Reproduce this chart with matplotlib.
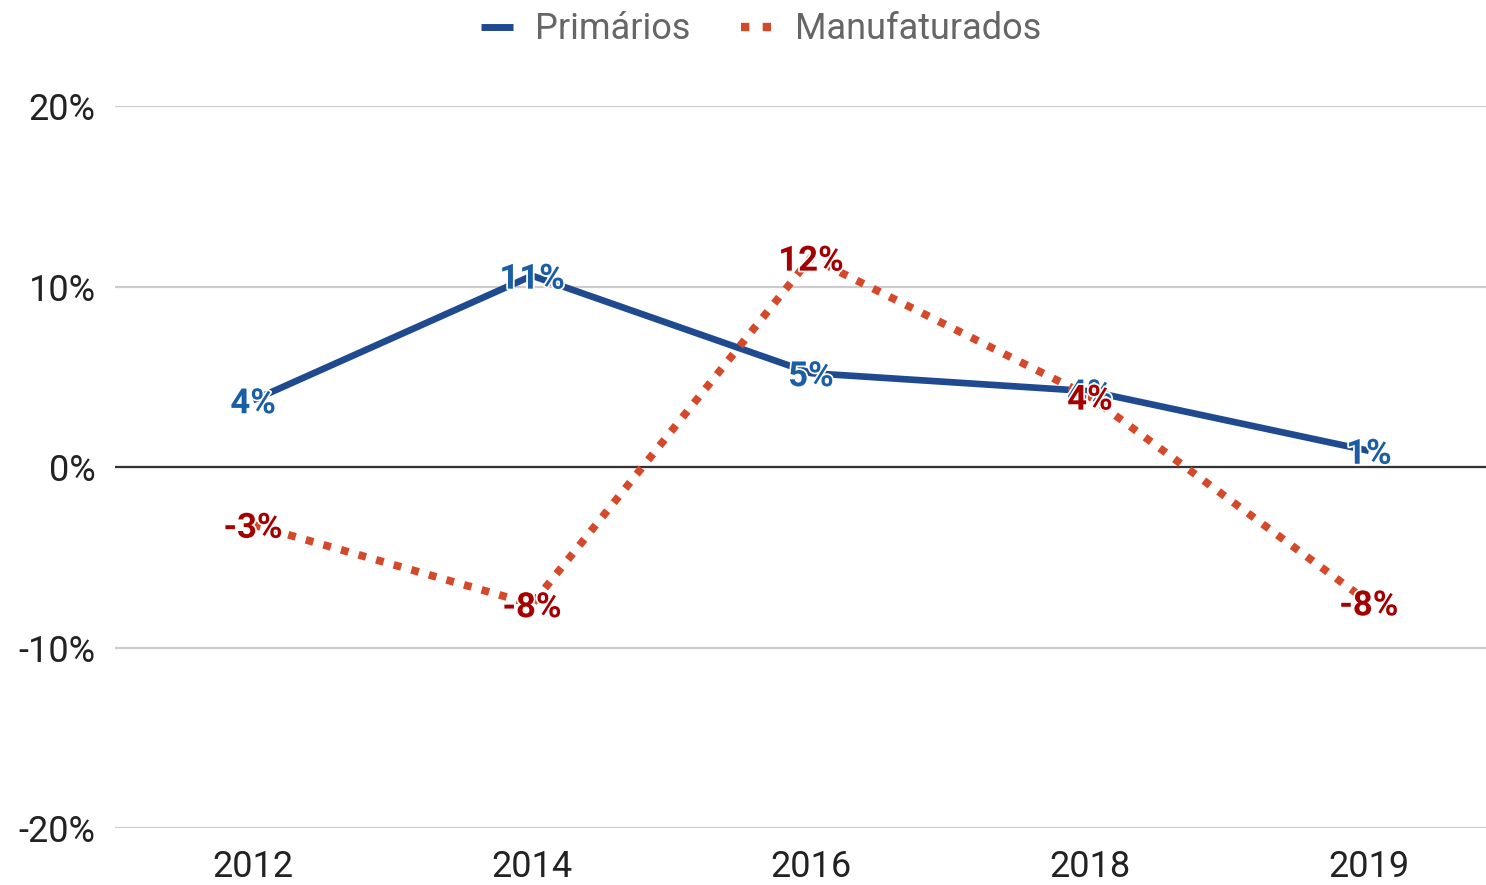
import matplotlib.pyplot as plt
import matplotlib.patheffects as pe
from matplotlib.lines import Line2D

plt.rcParams['font.family'] = ['Roboto', 'DejaVu Sans']

anos = ["2012", "2014", "2016", "2018", "2019"]
primarios = [3.7, 10.6, 5.2, 4.2, 0.9]
manufaturados = [-3.2, -7.6, 11.6, 3.9, -7.5]

azul = "#1f4a8f"
azul_txt = "#1a5fa6"
verm = "#d5492b"
verm_txt = "#a50000"

fig = plt.figure(figsize=(14.86, 8.85), dpi=100)
ax = fig.add_axes([0.0774, 0.0644, 0.9226, 0.8158])

x = list(range(len(anos)))

ax.plot(x, primarios, color=azul, lw=4.8, solid_capstyle='butt', zorder=3)
ax.plot(x, manufaturados, color=verm, lw=5.6, linestyle=(0, (1, 1.35)),
        dash_capstyle='butt', zorder=3)

outline = [pe.withStroke(linewidth=2.5, foreground="white")]
for xi, v in zip(x, primarios):
    ax.text(xi, v, f"{round(v):.0f}%", color=azul_txt, fontsize=25, fontweight='bold',
            ha='center', va='center_baseline', path_effects=outline, zorder=5)
for xi, v in zip(x, manufaturados):
    ax.text(xi, v, f"{round(v):.0f}%", color=verm_txt, fontsize=25, fontweight='bold',
            ha='center', va='center_baseline', path_effects=outline, zorder=5)

ax.set_ylim(-20, 20)
ax.set_xlim(-0.495, 4.42)
ax.set_yticks([-20, -10, 0, 10, 20])
ax.set_yticklabels(["-20%", "-10%", "0%", "10%", "20%"])
ax.set_xticks(x)
ax.set_xticklabels(anos)
ax.tick_params(axis='both', length=0, labelsize=26, labelcolor="#222222")
ax.tick_params(axis='y', pad=14)
ax.tick_params(axis='x', pad=15)

for s in ax.spines.values():
    s.set_visible(False)
ax.grid(axis='y', color="#cccccc", lw=1.6, zorder=0)
ax.set_axisbelow(True)
ax.axhline(0, color="#333333", lw=1.6, zorder=2)

handles = [
    Line2D([], [], color=azul, lw=5, solid_capstyle='butt'),
    Line2D([], [], color=verm, lw=6, linestyle=(0, (1, 1.6)), dash_capstyle='butt'),
]
fig.legend(handles, ["Primários", "Manufaturados"], loc='upper center',
           bbox_to_anchor=(0.512, 1.024), ncol=2, frameon=False, fontsize=26,
           handlelength=0.9, handletextpad=0.6, columnspacing=1.4,
           labelcolor="#666666")

fig.savefig("out.png", dpi=100)
